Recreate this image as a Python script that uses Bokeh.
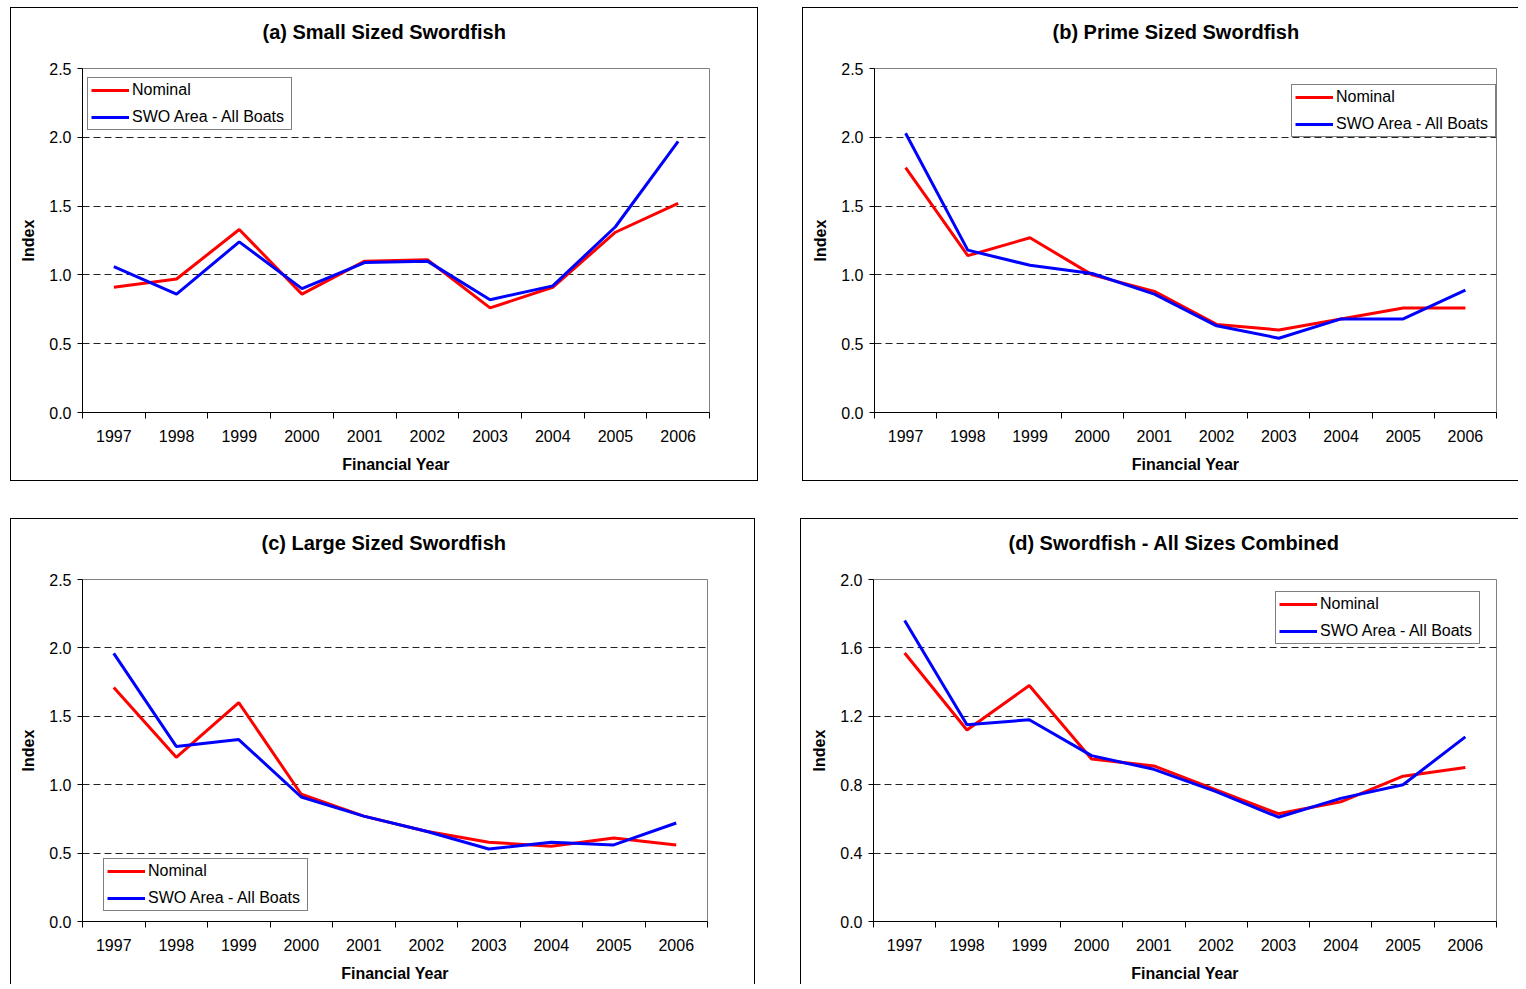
from bokeh.plotting import figure
from bokeh.models import Range1d, FixedTicker, NumeralTickFormatter, Legend, LegendItem, Title
from bokeh.layouts import column, row
from bokeh.embed import file_html
from bokeh.resources import INLINE

years = [1997, 1998, 1999, 2000, 2001, 2002, 2003, 2004, 2005, 2006]

small_nominal = [0.91, 0.97, 1.33, 0.86, 1.10, 1.11, 0.76, 0.91, 1.31, 1.52]
small_swo = [1.06, 0.86, 1.24, 0.90, 1.09, 1.10, 0.82, 0.92, 1.35, 1.97]

prime_nominal = [1.78, 1.14, 1.27, 1.00, 0.88, 0.64, 0.60, 0.68, 0.76, 0.76]
prime_swo = [2.03, 1.18, 1.07, 1.01, 0.86, 0.63, 0.54, 0.68, 0.68, 0.89]

large_nominal = [1.71, 1.20, 1.60, 0.93, 0.77, 0.66, 0.58, 0.55, 0.61, 0.56]
large_swo = [1.96, 1.28, 1.33, 0.91, 0.77, 0.66, 0.53, 0.58, 0.56, 0.72]

all_nominal = [1.57, 1.12, 1.38, 0.95, 0.91, 0.77, 0.63, 0.70, 0.85, 0.90]
all_swo = [1.76, 1.15, 1.18, 0.97, 0.89, 0.76, 0.61, 0.72, 0.80, 1.08]

yticks_a = [0.0, 0.5, 1.0, 1.5, 2.0, 2.5]
yticks_d = [0.0, 0.4, 0.8, 1.2, 1.6, 2.0]

series_labels = ["Nominal", "SWO Area - All Boats"]
series_colors = ["#FF0000", "#0000FF"]

FONT = "Liberation Sans"


def make_panel(title, nominal, swo, yticks, width, height, borders, legend_loc,
               shadow, margin, title_offset):
    left, right, top, bottom = borders
    p = figure(width=width, height=height,
               output_backend="svg", toolbar_location=None,
               x_range=Range1d(years[0] - 0.5, years[-1] + 0.5),
               y_range=Range1d(yticks[0], yticks[-1]),
               min_border_left=left, min_border_right=right,
               min_border_top=top, min_border_bottom=bottom,
               margin=margin)
    p.border_fill_color = None
    p.background_fill_color = "white"
    p.outline_line_color = "#808080"
    p.outline_line_width = 1
    p.styles = {"box-shadow": shadow}

    spacer = Title(text=" ", text_font_size="1px", standoff=11)
    p.add_layout(spacer, "above")
    heading = Title(text=title, align="left", vertical_align="top",
                    offset=title_offset, standoff=20, text_font=FONT,
                    text_font_style="bold", text_font_size="20px",
                    text_color="black")
    p.add_layout(heading, "above")

    minor = [y - 0.5 for y in years] + [years[-1] + 0.5]
    p.xaxis.ticker = FixedTicker(ticks=years, minor_ticks=minor)
    p.xaxis.major_tick_out = 0
    p.xaxis.major_tick_in = 0
    p.xaxis.minor_tick_out = 6
    p.xaxis.minor_tick_in = 0
    p.xaxis.minor_tick_line_color = "black"
    p.xaxis.major_label_standoff = 11
    p.xaxis.axis_label = "Financial Year"
    p.xaxis.axis_label_standoff = 11

    p.yaxis.ticker = FixedTicker(ticks=yticks)
    p.yaxis.formatter = NumeralTickFormatter(format="0.0")
    p.yaxis.major_tick_out = 5
    p.yaxis.major_tick_in = 0
    p.yaxis.minor_tick_line_color = None
    p.yaxis.major_label_standoff = 6
    p.yaxis.axis_label = "Index"
    p.yaxis.axis_label_standoff = 9

    for ax in (p.xaxis, p.yaxis):
        ax.axis_line_color = "black"
        ax.axis_line_width = 1
        ax.major_tick_line_color = "black"
        ax.major_label_text_font = FONT
        ax.major_label_text_font_size = "16px"
        ax.major_label_text_color = "black"
        ax.axis_label_text_font = FONT
        ax.axis_label_text_font_size = "16px"
        ax.axis_label_text_font_style = "bold"
        ax.axis_label_text_color = "black"

    p.xgrid.visible = False
    p.ygrid.ticker = FixedTicker(ticks=yticks[1:-1])
    p.ygrid.grid_line_color = "#222222"
    p.ygrid.grid_line_width = 1
    p.ygrid.grid_line_dash = "7 4"

    r1 = p.line(years, nominal, line_color=series_colors[0], line_width=3)
    r2 = p.line(years, swo, line_color=series_colors[1], line_width=3)

    legend = Legend(items=[LegendItem(label=series_labels[0], renderers=[r1]),
                           LegendItem(label=series_labels[1], renderers=[r2])],
                    location=legend_loc)
    legend.margin = 0
    legend.padding = 3
    legend.spacing = 9
    legend.glyph_width = 38
    legend.glyph_height = 18
    legend.label_height = 18
    legend.label_width = 156
    legend.label_standoff = 3
    legend.label_text_font = FONT
    legend.label_text_font_size = "16px"
    legend.label_text_color = "black"
    legend.border_line_color = "black"
    legend.border_line_width = 1
    legend.background_fill_color = "white"
    legend.background_fill_alpha = 1.0
    p.add_layout(legend)
    return p


pa = make_panel("(a) Small Sized Swordfish", small_nominal, small_swo, yticks_a,
                748, 474, (72, 49, 61, 68), (5, 282),
                "inset 0 0 0 1px #000", (7, 0, 0, 10), 180)
pb = make_panel("(b) Prime Sized Swordfish", prime_nominal, prime_swo, yticks_a,
                716, 474, (72, 22, 61, 69), (417, 275),
                "inset 1px 1px 0 0 #000, inset 0 -1px 0 0 #000", (7, 0, 0, 44), 178)
pc = make_panel("(c) Large Sized Swordfish", large_nominal, large_swo, yticks_a,
                745, 466, (72, 48, 61, 60), (21, 10),
                "inset 1px 1px 0 0 #000, inset -1px 0 0 0 #000", (37, 0, 0, 10), 179)
pd = make_panel("(d) Swordfish - All Sizes Combined", all_nominal, all_swo, yticks_d,
                718, 466, (73, 22, 61, 60), (402, 277),
                "inset 1px 1px 0 0 #000", (37, 0, 0, 45), 135)

layout = column(row(pa, pb), row(pc, pd))
open("out.html", "w").write(file_html(layout, INLINE))
